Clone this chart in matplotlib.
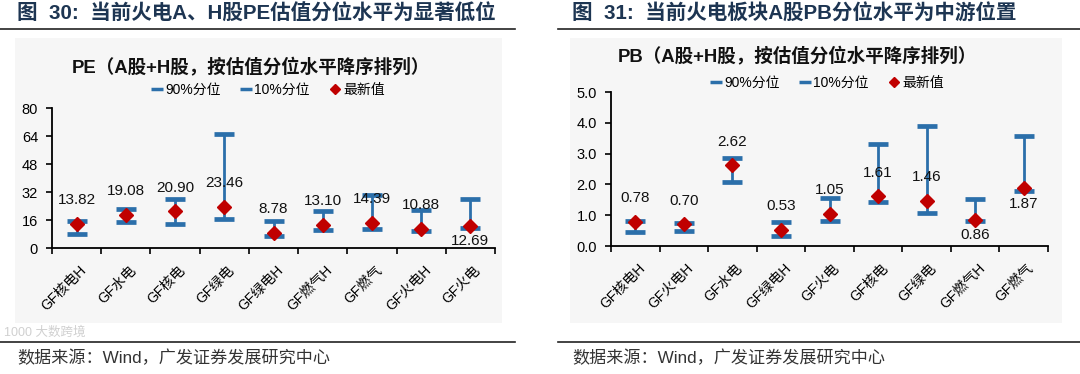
import matplotlib
matplotlib.use("Agg")
import matplotlib.pyplot as plt
import matplotlib.transforms as mt
from matplotlib.lines import Line2D
from matplotlib.patches import Rectangle

plt.rcParams['font.family'] = ['Liberation Sans', 'Noto Sans CJK SC']

# ---------------- data ----------------
pe_cats = ["GF核电H", "GF水电", "GF核电", "GF绿电", "GF绿电H", "GF燃气H", "GF燃气", "GF火电H", "GF火电"]
pe_p90 = [15.4, 22.3, 28.2, 65.3, 15.4, 21.1, 30.5, 21.7, 27.8]
pe_p10 = [8.2, 14.9, 13.9, 16.8, 7.0, 10.5, 11.0, 9.7, 11.6]
pe_latest = [13.82, 19.08, 20.90, 23.46, 8.78, 13.10, 14.39, 10.88, 12.69]
pe_label_below = [False, False, False, False, False, False, False, False, True]

pb_cats = ["GF核电H", "GF火电H", "GF水电", "GF绿电H", "GF火电", "GF核电", "GF绿电", "GF燃气H", "GF燃气"]
pb_p90 = [0.80, 0.74, 2.87, 0.77, 1.55, 3.30, 3.90, 1.53, 3.58]
pb_p10 = [0.47, 0.50, 2.07, 0.34, 0.80, 1.42, 1.08, 0.81, 1.79]
pb_latest = [0.78, 0.70, 2.62, 0.53, 1.05, 1.61, 1.46, 0.86, 1.87]
pb_label_below = [False, False, False, False, False, False, False, True, True]

BLUE = '#2b6faa'
RED = '#c00000'
NAVY = '#1d3552'

W, H = 1080, 374
fig = plt.figure(figsize=(W / 100, H / 100), dpi=100)


def px(x, y):
    return x / W, 1 - y / H


# gray panels
for (x0, x1) in [(15, 502), (570, 1062)]:
    fig.patches.append(Rectangle((x0 / W, 1 - 323 / H), (x1 - x0) / W, (323 - 38) / H,
                                 transform=fig.transFigure, facecolor='#f6f6f6',
                                 edgecolor='none', zorder=-5))

# header / footer lines
for (x0, x1) in [(0, 515), (558, 1080)]:
    for yy in (29, 342):
        fig.add_artist(Line2D([x0 / W, x1 / W], [1 - yy / H, 1 - yy / H],
                              transform=fig.transFigure, color='#222222', lw=1.2))

fig.text(*px(17, 14), "图  30:  当前火电A、H股PE估值分位水平为显著低位", fontsize=14.8,
         fontweight='bold', color=NAVY, va='center', ha='left')
fig.text(*px(572, 14), "图  31:  当前火电板块A股PB分位水平为中游位置", fontsize=14.8,
         fontweight='bold', color=NAVY, va='center', ha='left')

fig.text(*px(17, 358), "数据来源：Wind，广发证券发展研究中心", fontsize=12.3,
         color='#333333', va='center', ha='left')
fig.text(*px(572, 358), "数据来源：Wind，广发证券发展研究中心", fontsize=12.3,
         color='#333333', va='center', ha='left')
fig.text(*px(4, 333), "1000 大数跨境", fontsize=9, color='#d0d0d0',
         va='center', ha='left')


def draw_panel(rect, cats, p90, p10, latest, below, ylim, yticks, yfmt,
               title, title_xy, legend_xy):
    x0, y0, x1, y1 = rect
    ax = fig.add_axes([x0 / W, 1 - y1 / H, (x1 - x0) / W, (y1 - y0) / H])
    ax.set_facecolor('none')
    n = len(cats)
    xs = list(range(n))
    ax.vlines(xs, p10, p90, color=BLUE, lw=2.0, zorder=2)
    ax.plot(xs, p90, ls='none', marker='_', ms=14.5, mew=3.4, color=BLUE, zorder=3)
    ax.plot(xs, p10, ls='none', marker='_', ms=14.5, mew=3.4, color=BLUE, zorder=3)
    ax.plot(xs, latest, ls='none', marker='D', ms=7, color=RED, zorder=4)
    for x, v, b in zip(xs, latest, below):
        dy = -11 if b else 17
        ax.annotate(f"{v:.2f}", (x, v), xytext=(0, dy), textcoords='offset points',
                    ha='center', va='center', fontsize=11, color='#111111', zorder=5)
    ax.set_xlim(-0.5, n - 0.5)
    ax.set_ylim(*ylim)
    ax.set_yticks(yticks)
    ax.set_yticklabels([yfmt(t) for t in yticks], fontsize=10.5)
    ax.set_xticks([i - 0.5 for i in range(n + 1)])
    ax.set_xticklabels([])
    ax.set_xticks(xs, minor=True)
    ax.set_xticklabels(cats, minor=True, rotation=45, ha='right',
                       rotation_mode='anchor', fontsize=10)
    ax.tick_params(axis='x', which='minor', length=0, pad=11)
    ax.tick_params(axis='x', which='major', length=4, width=1.2, direction='out')
    ax.tick_params(axis='y', length=4, width=1.2, direction='out', pad=6)
    for s in ('top', 'right'):
        ax.spines[s].set_visible(False)
    for s in ('left', 'bottom'):
        ax.spines[s].set_linewidth(1.3)
    off = mt.ScaledTranslation(2 / 72, 0, fig.dpi_scale_trans)
    for lbl in ax.get_xticklabels(minor=True):
        lbl.set_transform(lbl.get_transform() + off)

    fig.text(*px(*title_xy), title, fontsize=13.3, fontweight='bold', color='#111111',
             ha='center', va='center')
    handles = [
        Line2D([], [], ls='none', marker='_', ms=8, mew=2.5, color=BLUE),
        Line2D([], [], ls='none', marker='_', ms=8, mew=2.5, color=BLUE),
        Line2D([], [], ls='none', marker='D', ms=5, color=RED),
    ]
    fig.legend(handles, ["90%分位", "10%分位", "最新值"], loc='center',
               bbox_to_anchor=px(*legend_xy), ncol=3, frameon=False, fontsize=10,
               handlelength=0.8, handletextpad=0.2, columnspacing=1.4)
    return ax


draw_panel((52, 108, 495, 248), pe_cats, pe_p90, pe_p10, pe_latest, pe_label_below,
           (0, 80), [0, 16, 32, 48, 64, 80], lambda t: f"{t:.0f}",
           "PE（A股+H股，按估值分位水平降序排列）", (251, 68), (268, 90))
draw_panel((611, 92, 1048, 246), pb_cats, pb_p90, pb_p10, pb_latest, pb_label_below,
           (0, 5), [0, 1, 2, 3, 4, 5], lambda t: f"{t:.1f}",
           "PB（A股+H股，按估值分位水平降序排列）", (797, 57), (827, 83))

fig.savefig("out.png", dpi=100)
